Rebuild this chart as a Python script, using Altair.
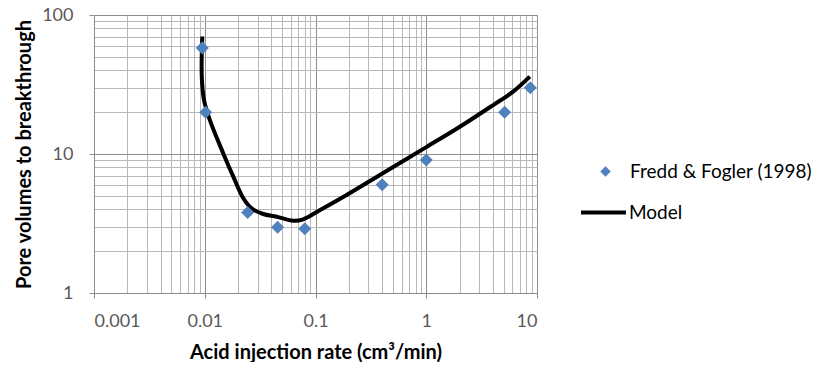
import altair as alt
import pandas as pd

# Experimental data (Fredd & Fogler 1998)
exp_rate = [0.0095, 0.0102, 0.0244, 0.0455, 0.080, 0.40, 1.0, 5.1, 8.7]
exp_pv = [58, 20, 3.8, 2.97, 2.9, 6.0, 9.05, 20, 30]

# Model curve
model_rate = [0.0095, 0.0094, 0.00985, 0.0111, 0.0147, 0.0181, 0.0223, 0.0265, 0.0337,
              0.0446, 0.063, 0.0775, 0.11, 0.191, 0.381, 1.0, 2.01, 4.02, 6.09, 8.61]
model_pv = [70, 36, 24.4, 17.6, 10.1, 6.87, 4.8, 4.06, 3.70,
            3.54, 3.31, 3.39, 3.95, 5.07, 7.06, 11.2, 15.7, 22.5, 28.1, 36]

x_ticks = [round(d * 10.0 ** k, 6) for k in range(-3, 1) for d in range(1, 10)] + [10]
y_ticks = [round(d * 10.0 ** k, 6) for k in range(0, 2) for d in range(1, 10)] + [100]

exp_df = pd.DataFrame({"rate": exp_rate, "pv": exp_pv, "series": "Fredd & Fogler (1998)"})
model_df = pd.DataFrame({"rate": model_rate, "pv": model_pv, "series": "Model",
                         "order": list(range(len(model_rate)))})

FONT = "Lato"
is_major = "abs(log(datum.value)/LN10 - round(log(datum.value)/LN10)) < 1e-6"

def make_axis(title, values, **kw):
    return alt.Axis(
        title=title, values=values, format="~g",
        labelExpr=f"({is_major}) ? datum.label : ''",
        grid=True,
        gridColor={"condition": {"test": is_major, "value": "#8c8c8c"}, "value": "#b8b8b8"},
        gridWidth=1,
        tickColor={"condition": {"test": is_major, "value": "#8c8c8c"}, "value": "transparent"},
        tickSize=5, domainColor="#8c8c8c",
        labelFont=FONT, labelFontSize=18, labelColor="#595959",
        titleFont=FONT, titleFontSize=20, titleFontWeight="bold", titleColor="#000000",
        **kw)

x_enc = alt.X("rate:Q", scale=alt.Scale(type="log", domain=[0.001, 10], nice=False),
              axis=make_axis("Acid injection rate (cm³/min)", x_ticks, labelPadding=14, titlePadding=12))
y_enc = alt.Y("pv:Q", scale=alt.Scale(type="log", domain=[1, 100], nice=False),
              axis=make_axis("Pore volumes to breakthrough", y_ticks, labelPadding=16, titlePadding=7))

points = alt.Chart(exp_df).mark_point(shape="diamond", filled=True, size=170, opacity=1).encode(
    x=x_enc, y=y_enc,
    color=alt.Color("series:N", scale=alt.Scale(domain=["Fredd & Fogler (1998)"], range=["#4F81BD"]),
                    legend=alt.Legend(title=None, orient="none", legendX=502, legendY=147,
                                      symbolType="diamond", symbolSize=110, symbolOpacity=1,
                                      labelFont=FONT, labelFontSize=19, labelColor="#000000",
                                      labelOffset=15, labelLimit=400, padding=0)),
)

line = alt.Chart(model_df).mark_line(interpolate="catmull-rom", strokeWidth=4).encode(
    x="rate:Q", y="pv:Q", order="order:Q",
    stroke=alt.Stroke("series:N", scale=alt.Scale(domain=["Model"], range=["#000000"]),
                      legend=alt.Legend(title=None, orient="none", legendX=485, legendY=173,
                                        symbolType="stroke", symbolSize=2025, symbolStrokeWidth=4,
                                        labelFont=FONT, labelFontSize=19, labelColor="#000000",
                                        labelOffset=1, labelLimit=400, padding=0)),
)

chart = alt.layer(line, points).resolve_scale(color="independent", stroke="independent").properties(
    width=443, height=278,
    autosize=alt.AutoSizeParams(type="none"),
    padding={"left": 86, "top": 7, "right": 280, "bottom": 69},
).configure_view(stroke=None)

chart.save("out.html", embed_options={"renderer": "svg", "actions": False})
